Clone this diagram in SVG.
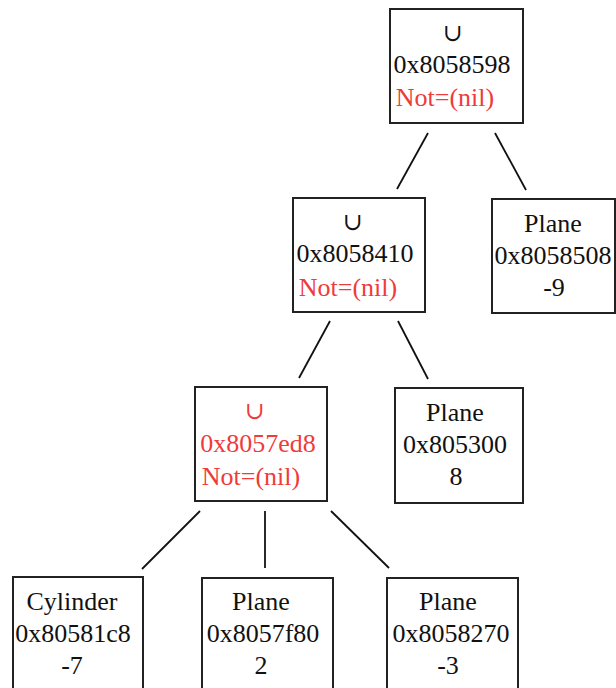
<svg xmlns="http://www.w3.org/2000/svg" width="616" height="688" viewBox="0 0 616 688">
<style>
.box{fill:#fff;stroke:#222;stroke-width:2}
text{font-family:"Liberation Serif","Times New Roman",serif;font-size:26px;fill:#111;text-anchor:middle}
.r{fill:#ef3b3b}
.u{font-family:"DejaVu Serif","Liberation Serif",serif;font-size:24px}
.c line{stroke:#111;stroke-width:1.8}
</style>
<rect width="616" height="688" fill="#fff"/>
<g class="c" id="connectors">
<line x1="428" y1="133" x2="397" y2="189"/>
<line x1="495" y1="133" x2="526" y2="190"/>
<line x1="330" y1="321" x2="299" y2="378"/>
<line x1="398" y1="321" x2="428" y2="379"/>
<line x1="200" y1="511" x2="142" y2="569"/>
<line x1="265" y1="511" x2="265" y2="568"/>
<line x1="331" y1="511" x2="389" y2="568"/>
</g>
<g id="n8058598">
<rect class="box" x="390" y="9" width="133" height="114"/>
<text class="u" x="453" y="41">∪</text>
<text x="452" y="73">0x8058598</text>
<text class="r" x="445" y="106">Not=(nil)</text>
</g>
<g id="n8058410">
<rect class="box" x="293" y="198" width="132" height="114"/>
<text class="u" x="353" y="230">∪</text>
<text x="355" y="262">0x8058410</text>
<text class="r" x="348" y="296">Not=(nil)</text>
</g>
<g id="n8058508">
<rect class="box" x="492" y="199" width="123" height="114"/>
<text x="553" y="232">Plane</text>
<text x="553" y="264">0x8058508</text>
<text x="554" y="296">-9</text>
</g>
<g id="n8057ed8">
<rect class="box" x="195" y="387" width="132" height="114"/>
<text class="u r" x="255" y="419">∪</text>
<text class="r" x="258" y="452">0x8057ed8</text>
<text class="r" x="251" y="485">Not=(nil)</text>
</g>
<g id="n805300">
<rect class="box" x="395" y="388" width="128" height="115"/>
<text x="455" y="421">Plane</text>
<text x="455" y="453">0x805300</text>
<text x="456" y="485">8</text>
</g>
<g id="n80581c8">
<rect class="box" x="13" y="577" width="130" height="130"/>
<text x="72" y="610">Cylinder</text>
<text x="73" y="642">0x80581c8</text>
<text x="72" y="674">-7</text>
</g>
<g id="n8057f80">
<rect class="box" x="202" y="578" width="131" height="130"/>
<text x="261" y="610">Plane</text>
<text x="263" y="642">0x8057f80</text>
<text x="261" y="674">2</text>
</g>
<g id="n8058270">
<rect class="box" x="387" y="578" width="131" height="130"/>
<text x="448" y="610">Plane</text>
<text x="451" y="642">0x8058270</text>
<text x="448" y="674">-3</text>
</g>
</svg>
